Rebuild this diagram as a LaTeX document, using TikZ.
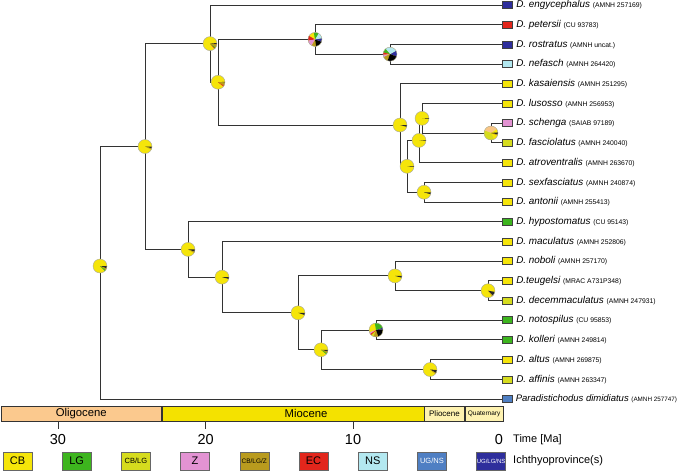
\documentclass[tikz,border=0pt]{standalone}
\usepackage{fontspec}
\setmainfont{Liberation Sans}
\usetikzlibrary{positioning}

\definecolor{cb}{HTML}{F5E50A}
\definecolor{lg}{HTML}{3DB51E}
\definecolor{cblg}{HTML}{D6DC1E}
\definecolor{zz}{HTML}{E393D3}
\definecolor{cblgz}{HTML}{B99B1E}
\definecolor{ec}{HTML}{E2261C}
\definecolor{ns}{HTML}{B3E8F0}
\definecolor{ugns}{HTML}{4F7FC3}
\definecolor{uglgns}{HTML}{2E2E9C}
\definecolor{peach}{HTML}{F8C585}
\definecolor{olig}{HTML}{FBC98E}
\definecolor{mioc}{HTML}{F4E200}
\definecolor{plio}{HTML}{FEF2B0}

\tikzset{
  branch/.style={line width=0.9pt, black!80},
  tipbox/.style={draw=black!75, line width=0.6pt, minimum width=10pt, minimum height=7pt, inner sep=0pt, anchor=west},
  sp/.style={inner sep=0pt, font=\fontsize{9.9}{12}\selectfont\itshape},
  legbox/.style={draw=black!60, line width=0.6pt, minimum width=29pt, minimum height=18pt, inner sep=0pt, font=\fontsize{11}{12}\selectfont},
  epoch/.style={draw=black!80, line width=0.6pt, inner sep=0pt, minimum height=15pt, anchor=north west},
  tnum/.style={font=\fontsize{14.5}{16}\selectfont}
}
\newcommand{\acc}[1]{{\upshape\fontsize{6.8}{8}\selectfont #1}}
\newcommand{\anc}[2]{%
  \begin{scope}[shift={(#1)}, yscale=-1]
    \fill[cb] (0,0) circle[radius=7];
    \foreach \a/\b/\c in {#2}{\fill[\c] (0,0) -- (\a:7) arc[start angle=\a, end angle=\b, radius=7] -- cycle;}
    \draw[black!35, line width=0.4pt] (0,0) circle[radius=7];
  \end{scope}}

\begin{document}
\begin{tikzpicture}[x=1pt, y=-1pt]
\useasboundingbox (0,0) rectangle (685,472);
\coordinate (R) at (100,266);
\coordinate (A) at (145,146.5);
\coordinate (B) at (210,43.6);
\coordinate (D) at (218,82.2);
\coordinate (E) at (315,39.4);
\coordinate (G) at (390,54.2);
\coordinate (F) at (400,125);
\coordinate (H) at (407,166.3);
\coordinate (I) at (419,140.4);
\coordinate (K) at (422,118.3);
\coordinate (L) at (491,133);
\coordinate (J) at (424,192.2);
\coordinate (C) at (188,249.4);
\coordinate (M) at (222,277.1);
\coordinate (N) at (298,312.8);
\coordinate (O) at (395,275.9);
\coordinate (Q) at (488,290.7);
\coordinate (P) at (321,349.8);
\coordinate (S) at (376,330);
\coordinate (T) at (430,369.5);

\node[tipbox, fill=uglgns] (b1) at (502,5) {};
\node[tipbox, fill=ec] (b2) at (502,24.7) {};
\node[tipbox, fill=uglgns] (b3) at (502,44.4) {};
\node[tipbox, fill=ns] (b4) at (502,64.1) {};
\node[tipbox, fill=cb] (b5) at (502,83.8) {};
\node[tipbox, fill=cb] (b6) at (502,103.5) {};
\node[tipbox, fill=zz] (b7) at (502,123.2) {};
\node[tipbox, fill=cblg] (b8) at (502,142.9) {};
\node[tipbox, fill=cb] (b9) at (502,162.6) {};
\node[tipbox, fill=cb] (b10) at (502,182.3) {};
\node[tipbox, fill=cb] (b11) at (502,202) {};
\node[tipbox, fill=lg] (b12) at (502,221.7) {};
\node[tipbox, fill=cb] (b13) at (502,241.4) {};
\node[tipbox, fill=cb] (b14) at (502,261.1) {};
\node[tipbox, fill=cb] (b15) at (502,280.8) {};
\node[tipbox, fill=cblg] (b16) at (502,300.5) {};
\node[tipbox, fill=lg] (b17) at (502,320.2) {};
\node[tipbox, fill=lg] (b18) at (502,339.9) {};
\node[tipbox, fill=cb] (b19) at (502,359.6) {};
\node[tipbox, fill=cblg] (b20) at (502,379.3) {};
\node[tipbox, fill=ugns] (b21) at (502,399) {};

\node[sp, right=3.5pt of b1] (s1) {D. engycephalus \acc{(AMNH 257169)}};
\node[sp, right=3.5pt of b2] (s2) {D. petersii \acc{(CU 93783)}};
\node[sp, right=3.5pt of b3] (s3) {D. rostratus \acc{(AMNH uncat.)}};
\node[sp, right=3.5pt of b4] (s4) {D. nefasch \acc{(AMNH 264420)}};
\node[sp, right=3.5pt of b5] (s5) {D. kasaiensis \acc{(AMNH 251295)}};
\node[sp, right=3.5pt of b6] (s6) {D. lusosso \acc{(AMNH 256953)}};
\node[sp, right=3.5pt of b7] (s7) {D. schenga \acc{(SAIAB 97189)}};
\node[sp, right=3.5pt of b8] (s8) {D. fasciolatus \acc{(AMNH 240040)}};
\node[sp, right=3.5pt of b9] (s9) {D. atroventralis \acc{(AMNH 263670)}};
\node[sp, right=3.5pt of b10] (s10) {D. sexfasciatus \acc{(AMNH 240874)}};
\node[sp, right=3.5pt of b11] (s11) {D. antonii \acc{(AMNH 255413)}};
\node[sp, right=3.5pt of b12] (s12) {D. hypostomatus \acc{(CU 95143)}};
\node[sp, right=3.5pt of b13] (s13) {D. maculatus \acc{(AMNH 252806)}};
\node[sp, right=3.5pt of b14] (s14) {D. noboli \acc{(AMNH 257170)}};
\node[sp, right=3.5pt of b15] (s15) {D.teugelsi \acc{(MRAC A731P348)}};
\node[sp, right=3.5pt of b16] (s16) {D. decemmaculatus \acc{(AMNH 247931)}};
\node[sp, right=3.5pt of b17] (s17) {D. notospilus \acc{(CU 95853)}};
\node[sp, right=3.5pt of b18] (s18) {D. kolleri \acc{(AMNH 249814)}};
\node[sp, right=3.5pt of b19] (s19) {D. altus \acc{(AMNH 269875)}};
\node[sp, right=3.5pt of b20] (s20) {D. affinis \acc{(AMNH 263347)}};
\node[sp, right=3pt of b21, font=\fontsize{9.5}{12}\selectfont\itshape] (s21) {Paradistichodus dimidiatus {\upshape\fontsize{6.3}{8}\selectfont (AMNH 257747)}};

\draw[branch] (R) |- (A);
\draw[branch] (R) |- (b21.west);
\draw[branch] (A) |- (B);
\draw[branch] (A) |- (C);
\draw[branch] (B) |- (b1.west);
\draw[branch] (B) |- (D);
\draw[branch] (D) |- (E);
\draw[branch] (D) |- (F);
\draw[branch] (E) |- (b2.west);
\draw[branch] (E) |- (G);
\draw[branch] (G) |- (b3.west);
\draw[branch] (G) |- (b4.west);
\draw[branch] (F) |- (b5.west);
\draw[branch] (F) |- (H);
\draw[branch] (H) |- (I);
\draw[branch] (H) |- (J);
\draw[branch] (I) |- (K);
\draw[branch] (I) |- (b9.west);
\draw[branch] (K) |- (b6.west);
\draw[branch] (K) |- (L);
\draw[branch] (L) |- (b7.west);
\draw[branch] (L) |- (b8.west);
\draw[branch] (J) |- (b10.west);
\draw[branch] (J) |- (b11.west);
\draw[branch] (C) |- (b12.west);
\draw[branch] (C) |- (M);
\draw[branch] (M) |- (b13.west);
\draw[branch] (M) |- (N);
\draw[branch] (N) |- (O);
\draw[branch] (N) |- (P);
\draw[branch] (O) |- (b14.west);
\draw[branch] (O) |- (Q);
\draw[branch] (Q) |- (b15.west);
\draw[branch] (Q) |- (b16.west);
\draw[branch] (P) |- (S);
\draw[branch] (P) |- (T);
\draw[branch] (S) |- (b17.west);
\draw[branch] (S) |- (b18.west);
\draw[branch] (T) |- (b19.west);
\draw[branch] (T) |- (b20.west);

% ancestral states
\anc{R}{-20/0/black!85, -35/-20/cblgz, -45/-35/lg}
\anc{A}{-15/0/black!85, -25/-15/cblgz}
\anc{B}{-5/5/black!85, -35/-5/cblgz, -45/-35/lg, -50/-45/ec}
\anc{D}{-3/3/black!85, -30/-3/cblgz, -38/-30/ec}
\anc{E}{-120/-80/cblgz, -80/-20/black, -20/10/uglgns, 10/60/ns, 60/100/lg, 150/190/ec, 190/240/zz}
\anc{G}{-20/30/uglgns, 30/130/ns, 130/165/lg, 165/185/ec, 185/205/zz, 205/250/cblgz, 250/340/black}
\anc{F}{-15/0/black!85}
\anc{H}{-4/2/black!85}
\anc{I}{-3/2/black!85}
\anc{K}{-4/1/black!85}
\anc{L}{35/160/peach, 160/295/cblg, 340/350/cblgz, 350/365/black!85}
\anc{J}{-18/-2/black!85}
\anc{C}{-20/0/black!85, -30/-20/cblgz}
\anc{M}{-15/0/black!85}
\anc{N}{-18/0/black!85}
\anc{O}{-15/0/black!85}
\anc{Q}{-45/-10/black!85, -55/-45/cblgz}
\anc{P}{-15/0/black!85, -30/-15/cblgz, -40/-30/lg}
\anc{S}{-135/-110/cblg, -110/-70/cblgz, -70/5/black, 5/20/uglgns, 20/100/lg, 200/215/zz, 215/225/ec}
\anc{T}{-30/-5/black!85, -40/-30/cblgz}

% time scale
\node[epoch, fill=olig, minimum width=160pt, font=\fontsize{11.3}{12}\selectfont] (oligo) at (1,406) {Oligocene};
\node[epoch, fill=mioc, minimum width=262pt] (mio) at (oligo.north east) {};
\node[font=\fontsize{11.3}{12}\selectfont] at (306,413.5) {Miocene};
\node[epoch, fill=plio, minimum width=40pt, font=\fontsize{8}{9}\selectfont] (plio) at (mio.north east) {Pliocene};
\node[epoch, fill=plio, minimum width=38pt, font=\fontsize{6.5}{7}\selectfont] (quat) at (plio.north east) {Quaternary};
\draw[black!80, line width=0.8pt] (58,421) -- (58,429);
\draw[black!80, line width=0.8pt] (205.6,421) -- (205.6,429);
\draw[black!80, line width=0.8pt] (353,421) -- (353,429);
\node[tnum] at (58,439) {30};
\node[tnum] at (205.6,439) {20};
\node[tnum] at (353,439) {10};
\node[tnum] at (499,439) {0};
\node[anchor=west, inner sep=0pt, font=\fontsize{11}{12}\selectfont] (time) at (513,440) {Time [Ma]};

% legend
\node[legbox, fill=cb] (lcb) at (17.5,461) {CB};
\node[legbox, fill=lg, right=29.6pt of lcb] (llg) {LG};
\node[legbox, fill=cblg, right=29.6pt of llg, font=\fontsize{7.5}{8}\selectfont] (lcblg) {CB/LG};
\node[legbox, fill=zz, right=29.6pt of lcblg] (lz) {Z};
\node[legbox, fill=cblgz, right=29.6pt of lz, font=\fontsize{6.5}{7}\selectfont] (lcblgz) {CB/LG/Z};
\node[legbox, fill=ec, right=29.6pt of lcblgz] (lec) {EC};
\node[legbox, fill=ns, right=29.6pt of lec] (lns) {NS};
\node[legbox, fill=ugns, right=29.6pt of lns, text=white, font=\fontsize{7.5}{8}\selectfont] (lugns) {UG/NS};
\node[legbox, fill=uglgns, right=29.6pt of lugns, text=white, font=\fontsize{6}{7}\selectfont] (luglgns) {UG/LG/NS};
\node[anchor=west, inner sep=0pt, font=\fontsize{11}{12}\selectfont] (ichth) at (513,461) {Ichthyoprovince(s)};
\end{tikzpicture}
\end{document}
